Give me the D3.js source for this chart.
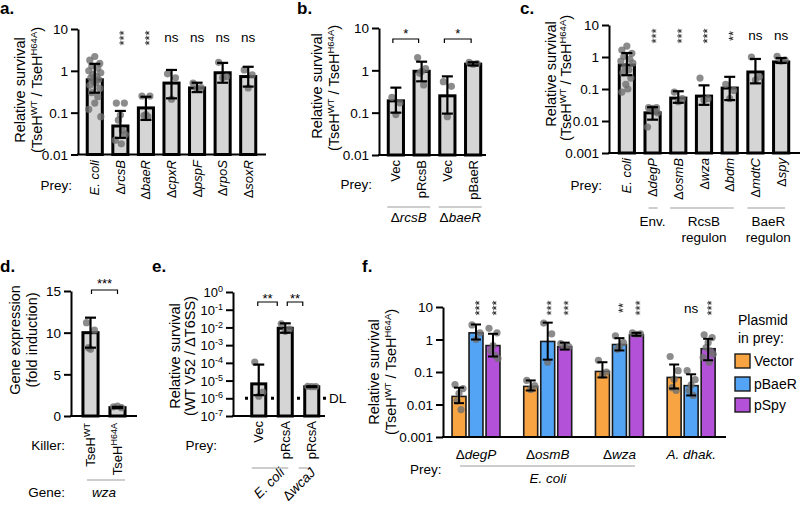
<!DOCTYPE html>
<html><head><meta charset="utf-8">
<script src="https://cdn.jsdelivr.net/npm/d3@7"></script>
<style>
body{margin:0;background:#fff;}
svg{display:block;font-family:"Liberation Sans",Arial,Helvetica,sans-serif;}
</style></head><body>
<svg id="c" width="800" height="508"></svg>
<script>
// ================= DATA =================
// Panel a
const aCats = ["_E. coli_","Δ_rcsB_","Δ_baeR_","Δ_cpxR_","Δ_pspF_","Δ_rpoS_","Δ_soxR_"];
const aMean = [0.61,0.048,0.13,0.51,0.39,0.9,0.73];
const aLo   = [0.3,0.025,0.067,0.22,0.31,0.52,0.42];
const aHi   = [1.47,0.11,0.24,1.05,0.52,1.55,1.25];
const aDots = [
  [2.2,1.8,1.5,1.3,1.15,1.0,0.9,0.82,0.75,0.68,0.62,0.57,0.52,0.45,0.38,0.3,0.24,0.17,0.12,0.08],
  [0.17,0.17,0.088,0.066,0.038,0.03,0.022,0.018],
  [0.25,0.25,0.09,0.085,0.08],
  [0.85,0.68,0.21],
  [0.51,0.4,0.37],
  [1.6,0.72,0.68],
  [1.05,0.8,0.39]
];
const aSig = ["","***","***","ns","ns","ns","ns"];
const logTicks3 = [0.01,0.1,1,10];
const logLabels3 = ["0.01","0.1","1","10"];

// Panel b
const bCats = ["Vec","pRcsB","Vec ","pBaeR"];
const bMean = [0.19,0.95,0.25,1.4];
const bLo   = [0.1,0.55,0.095,1.3];
const bHi   = [0.39,1.6,0.72,1.55];
const bDots = [[0.23,0.17,0.09],[2.0,1.1,0.95,0.85,0.45],[0.54,0.42,0.08],[1.55,1.45,1.4]];
const bGroups = ["Δ_rcsB_","Δ_baeR_"];

// Panel c
const cCats = ["_E. coli_","Δ_degP_","Δ_osmB_","Δ_wza_","Δ_bdm_","Δ_mdtC_","Δ_spy_"];
const cMean = [0.56,0.018,0.052,0.06,0.107,0.34,0.7];
const cLo   = [0.27,0.011,0.037,0.032,0.045,0.15,0.65];
const cHi   = [1.33,0.027,0.085,0.13,0.24,0.87,0.93];
const cDots = [
  [2.2,1.65,1.3,1.05,0.85,0.75,0.65,0.5,0.4,0.32,0.22,0.14,0.1,0.08],
  [0.026,0.026,0.025,0.024,0.02,0.018,0.0065],
  [0.08,0.05,0.04],
  [0.22,0.05,0.045],
  [0.14,0.09,0.05],
  [1.0,0.24,0.19],
  [1.05,0.8,0.75]
];
const cSig = ["","***","***","***","**","ns","ns"];
const cTicks = [0.001,0.01,0.1,1,10];
const cLabels = ["0.001","0.01","0.1","1","10"];
const cGroups = ["Env.","RcsB|regulon","BaeR|regulon"];

// Panel d
const dCats = ["TseH^WT^","TseH^H64A^"];
const dMean = [10,1];
const dLo   = [8.2,0.95];
const dHi   = [11.8,1.1];
const dDots = [[11.2,10.3,8.0,8.2],[1.1,1.0,1.2]];
const dTicks = [0,5,10,15];

// Panel e
const eCats = ["Vec","pRcsA","pRcsA "];
const eMean = [6.5e-6,0.009,4.5e-6];
const eLo   = [1.5e-6,0.005,4.3e-6];
const eHi   = [8e-5,0.017,4.8e-6];
const eDots = [[1.1e-4,2.2e-6,1.3e-6],[0.016,0.008,0.006],[4.7e-6,4.6e-6,4.5e-6]];
const eTicks = [1e-7,1e-6,1e-5,1e-4,1e-3,1e-2,1e-1,1];
const eExp = ["-7","-6","-5","-4","-3","-2","-1","0"];
const eDL = 1e-6;
const eGroups = ["_E. coli_","Δ_wcaJ_"];

// Panel f
const fGroups = ["Δ_degP_","Δ_osmB_","Δ_wza_","_A. dhak._"];
const fSeries = ["Vector","pBaeR","pSpy"];
const fColors = ["#F9A443","#53A4F5","#B352D8"];
const fVector = [0.0177,0.036,0.104,0.068];
const fBaeR   = [1.6,0.87,0.7,0.038];
const fSpy    = [0.65,0.6,1.4,0.52];
const fVectorLo = [0.011,0.027,0.068,0.031], fVectorHi = [0.033,0.055,0.2,0.17];
const fBaeRLo   = [1.0,0.24,0.46,0.019],     fBaeRHi   = [2.9,3.3,1.1,0.085];
const fSpyLo    = [0.3,0.49,1.3,0.23],       fSpyHi    = [1.5,0.8,1.6,1.05];
const fVectorDots = [[0.041,0.031,0.022,0.013,0.007],[0.055,0.038,0.029],[0.23,0.1,0.08],[0.3,0.11,0.06,0.033,0.027]];
const fBaeRDots   = [[2.8,1.6,1.0],[3.2,1.5,0.2],[1.3,0.8,0.6,0.5],[0.11,0.058,0.04,0.027,0.019]];
const fSpyDots    = [[2.2,1.6,0.65,0.45,0.32,0.26],[0.75,0.6,0.58],[1.6,1.5,1.45],[1.4,1.15,0.8,0.56,0.45,0.35,0.28,0.2]];
const fSigBaeR = ["***","***","**","ns"];
const fSigSpy  = ["***","***","***","***"];

// ================= HELPERS =================
const svg = d3.select('#c');
// desaturating filter so rotated asterisks are drawn in plain black/grey
svg.append('defs').append('filter').attr('id', 'mono')
  .attr('x', '-50%').attr('y', '-50%').attr('width', '200%').attr('height', '200%')
  .append('feColorMatrix').attr('type', 'saturate').attr('values', 0);
const JIT = [0,-5,5,-3,3,-6,6,-2,2,-4,4,-1,1,-5,5,-3,3,0,-6,6];
const JIT3 = [-4,4,0,-2,2,5,-5,1];

function rich(sel, str, opt = {}) {
  const sup = opt.sup || 9.5, shift = opt.shift || 5;
  const parts = str.split(/(_[^_]+_|\^[^^]+\^)/).filter(s => s.length);
  let back = 0;
  parts.forEach(p => {
    let ts;
    if (p.length > 1 && p[0] === '^' && p[p.length-1] === '^') {
      sel.append('tspan').attr('font-size', sup).attr('dy', -shift).text(p.slice(1,-1));
      back = shift; return;
    }
    if (p.length > 1 && p[0] === '_' && p[p.length-1] === '_') ts = sel.append('tspan').attr('font-style','italic').text(p.slice(1,-1));
    else ts = sel.append('tspan').text(p);
    if (back) { ts.attr('dy', back); back = 0; }
  });
  return sel;
}
function txt(x, y, s, size, anchor, opt) {
  const t = svg.append('text').attr('x', x).attr('y', y).attr('font-size', size || 13)
    .attr('text-anchor', anchor || 'start').attr('fill', '#000');
  return rich(t, s, opt);
}
function vtxt(x, y, s, size, anchor, angle, opt) {
  const t = svg.append('text').attr('transform', `translate(${x},${y}) rotate(${angle == null ? -90 : angle})`)
    .attr('font-size', size || 13).attr('text-anchor', anchor || 'middle').attr('dy', '0.35em').attr('fill', '#000');
  return rich(t, s, opt);
}
function yAxis(y, x0, ticks, labels, sizeLbl, supFmt) {
  const ax = d3.axisLeft(y).tickValues(ticks).tickFormat('').tickSize(7).tickSizeOuter(0);
  const g = svg.append('g').attr('transform', `translate(${x0},0)`).call(ax);
  g.select('.domain').attr('stroke', '#000').attr('stroke-width', 2);
  g.selectAll('.tick line').attr('stroke', '#000').attr('stroke-width', 2);
  g.selectAll('.tick text').remove();
  g.selectAll('.tick').each(function(d, i) {
    const t = d3.select(this).append('text').attr('x', -10).attr('dy', '0.36em')
      .attr('text-anchor', 'end').attr('font-size', sizeLbl || 13.5).attr('fill', '#000');
    rich(t, labels[i], supFmt);
  });
  g.attr('font-family', null);
  return g;
}
function baseline(x1, x2, y) {
  svg.append('line').attr('x1', x1).attr('x2', x2).attr('y1', y).attr('y2', y)
    .attr('stroke', '#000').attr('stroke-width', 2);
}
function errBars(g, data, cap, sw) {
  g.selectAll(null).data(data).join('line')
    .attr('x1', d => d.x).attr('x2', d => d.x).attr('y1', d => d.ylo).attr('y2', d => d.yhi)
    .attr('stroke', '#000').attr('stroke-width', sw);
  ['ylo','yhi'].forEach(k => {
    g.selectAll(null).data(data).join('line')
      .attr('x1', d => d.x - cap/2).attr('x2', d => d.x + cap/2).attr('y1', d => d[k]).attr('y2', d => d[k])
      .attr('stroke', '#000').attr('stroke-width', sw);
  });
}
function dotsDraw(g, pts) {
  g.selectAll(null).data(pts).join('circle')
    .attr('cx', d => d.x).attr('cy', d => d.y).attr('r', 3.6)
    .attr('fill', '#6f6f6f').attr('fill-opacity', 0.8);
}
function barPanel(cfg) {
  const { cats, mean, lo, hi, dots, y, xRange, pad } = cfg;
  const x = d3.scaleBand().domain(cats).range(xRange).paddingInner(pad).paddingOuter(pad / 2);
  const y0 = y.range()[0], bw = x.bandwidth();
  const g = svg.append('g');
  if (cfg.before) cfg.before(x);
  g.selectAll('rect').data(cats).join('rect')
    .attr('x', c => x(c)).attr('width', bw)
    .attr('y', (c, i) => y(mean[i])).attr('height', (c, i) => y0 - y(mean[i]))
    .attr('fill', '#d5d5d5').attr('stroke', '#000').attr('stroke-width', 3);
  const pts = [];
  cats.forEach((c, i) => dots[i].forEach((v, j) => {
    const jit = dots[i].length > 8 ? JIT[j % JIT.length] : JIT3[j % JIT3.length];
    pts.push({ x: x(c) + bw / 2 + jit, y: y(v) });
  }));
  dotsDraw(g, pts);
  errBars(g, cats.map((c, i) => ({ x: x(c) + bw / 2, ylo: y(lo[i]), yhi: y(hi[i]) })), 11, 2.2);
  return x;
}
function stars(x, yc, s, size) {
  // vertical stack of asterisks: one rotated text element, desaturated
  svg.append('text').attr('transform', `translate(${x},${yc}) rotate(-90)`)
    .attr('text-anchor', 'middle').attr('dy', '0.6em').attr('font-size', size || 13)
    .attr('fill', '#000').attr('filter', 'url(#mono)').text(s);
}
function bracket(x1, x2, y, label, ly) {
  svg.append('path').attr('d', `M${x1},${y + 4}V${y}H${x2}V${y + 4}`)
    .attr('fill', 'none').attr('stroke', '#000').attr('stroke-width', 1.2);
  txt((x1 + x2) / 2, ly, label, 13, 'middle');
}
function grayLine(x1, x2, y) {
  svg.append('line').attr('x1', x1).attr('x2', x2).attr('y1', y).attr('y2', y)
    .attr('stroke', '#bdbdbd').attr('stroke-width', 1.5);
}

// ================= PANEL A =================
{
  const y = d3.scaleLog().domain([0.01, 10]).range([154.5, 29]);
  const x = barPanel({ cats: aCats, mean: aMean, lo: aLo, hi: aHi, dots: aDots, y, xRange: [82, 261], pad: 0.41 });
  yAxis(y, 78, logTicks3, logLabels3);
  baseline(77, 266, 154.5);
  aCats.forEach((c, i) => {
    const cx = x(c) + x.bandwidth() / 2;
    if (aSig[i] === 'ns') txt(cx, 42, 'ns', 13.5, 'middle');
    else if (aSig[i]) stars(cx, 38, aSig[i]);
    vtxt(cx, 160, c, 13, 'end');
  });
  txt(72, 190, 'Prey:', 13.5, 'end');
  vtxt(20, 90, 'Relative survival', 14.5);
  vtxt(37, 90, '(TseH^WT^ / TseH^H64A^)', 14.5, 'middle', -90, { sup: 9.5, shift: 5 });
  svg.append('text').attr('x', 0).attr('y', 14).attr('font-weight', 'bold').attr('font-size', 17).text('a.');
}

// ================= PANEL B =================
{
  const y = d3.scaleLog().domain([0.01, 10]).range([155, 28]);
  const x = barPanel({ cats: bCats, mean: bMean, lo: bLo, hi: bHi, dots: bDots, y, xRange: [383, 486], pad: 0.41 });
  yAxis(y, 379, logTicks3, logLabels3);
  baseline(378, 486, 155);
  const cx = c => x(c) + x.bandwidth() / 2;
  bCats.forEach(c => vtxt(cx(c), 160, c.trim(), 13, 'end'));
  bracket(cx(bCats[0]) - 3, cx(bCats[1]) - 3, 39, '*', 38);
  bracket(cx(bCats[2]) - 3, cx(bCats[3]) - 2, 39, '*', 38);
  grayLine(x(bCats[0]) - 1, x(bCats[1]) + x.bandwidth() + 1, 207);
  grayLine(x(bCats[2]) - 1, x(bCats[3]) + x.bandwidth() + 1, 207);
  txt((cx(bCats[0]) + cx(bCats[1])) / 2, 222, bGroups[0], 13.5, 'middle');
  txt((cx(bCats[2]) + cx(bCats[3])) / 2, 222, bGroups[1], 13.5, 'middle');
  txt(372, 189, 'Prey:', 13.5, 'end');
  vtxt(317, 86, 'Relative survival', 14.5);
  vtxt(334, 88, '(TseH^WT^ / TseH^H64A^)', 14.5);
  svg.append('text').attr('x', 297).attr('y', 14).attr('font-weight', 'bold').attr('font-size', 17).text('b.');
}

// ================= PANEL C =================
{
  const y = d3.scaleLog().domain([0.001, 10]).range([153, 25]);
  const x = barPanel({ cats: cCats, mean: cMean, lo: cLo, hi: cHi, dots: cDots, y, xRange: [614, 794], pad: 0.41 });
  yAxis(y, 609, cTicks, cLabels);
  baseline(608, 800, 153);
  const cx = c => x(c) + x.bandwidth() / 2;
  cCats.forEach((c, i) => {
    if (cSig[i] === 'ns') txt(cx(c), 40, 'ns', 13.5, 'middle');
    else if (cSig[i]) stars(cx(c), 36, cSig[i]);
    vtxt(cx(c), 158, c, 13, 'end');
  });
  grayLine(cx(cCats[1]) - 4, cx(cCats[1]) + 5, 208);
  grayLine(cx(cCats[2]) - 8, cx(cCats[4]) + 4, 208);
  grayLine(cx(cCats[5]) - 8, cx(cCats[6]) + 4, 208);
  const gx = [cx(cCats[1]), (cx(cCats[2]) + cx(cCats[4])) / 2, (cx(cCats[5]) + cx(cCats[6])) / 2];
  cGroups.forEach((s, i) => s.split('|').forEach((line, k) => txt(gx[i], 226 + k * 16, line, 13.5, 'middle')));
  txt(602, 190, 'Prey:', 13.5, 'end');
  vtxt(551, 74, 'Relative survival', 14.5);
  vtxt(566, 78, '(TseH^WT^ / TseH^H64A^)', 14.5);
  svg.append('text').attr('x', 520).attr('y', 14).attr('font-weight', 'bold').attr('font-size', 17).text('c.');
}

// ================= PANEL D =================
{
  const y = d3.scaleLinear().domain([0, 15]).range([416, 291]);
  const x = barPanel({ cats: dCats, mean: dMean, lo: dLo, hi: dHi, dots: dDots, y, xRange: [77, 131], pad: 0.44 });
  yAxis(y, 71, dTicks, dTicks.map(String));
  baseline(70, 137, 416);
  const cx = c => x(c) + x.bandwidth() / 2;
  dCats.forEach(c => vtxt(cx(c), 423, c, 13, 'end', -90, { sup: 9, shift: 5 }));
  bracket(cx(dCats[0]) + 1, cx(dCats[1]), 290, '***', 288);
  grayLine(x(dCats[0]) + 4, x(dCats[1]) + x.bandwidth(), 480);
  txt((cx(dCats[0]) + cx(dCats[1])) / 2, 497, '_wza_', 13.5, 'middle');
  txt(65, 450, 'Killer:', 13.5, 'end');
  txt(65, 497, 'Gene:', 13.5, 'end');
  vtxt(15, 340, 'Gene expression', 14.5);
  vtxt(32, 340, '(fold induction)', 14.5);
  svg.append('text').attr('x', 0).attr('y', 272).attr('font-weight', 'bold').attr('font-size', 17).text('d.');
}

// ================= PANEL E =================
{
  const y = d3.scaleLog().domain([1e-7, 1]).range([416, 292]);
  const x = barPanel({ cats: eCats, mean: eMean, lo: eLo, hi: eHi, dots: eDots, y, xRange: [245.5, 325], pad: 0.47,
    before: () => {
      svg.append('line').attr('x1', 245).attr('x2', 326).attr('y1', y(eDL)).attr('y2', y(eDL))
        .attr('stroke', '#000').attr('stroke-width', 3).attr('stroke-dasharray', '3,23');
    } });
  yAxis(y, 233, eTicks, eExp.map(e => '10^' + e + '^'), 13, { sup: 9, shift: 5 });
  baseline(232, 325, 416);
  const cx = c => x(c) + x.bandwidth() / 2;
  eCats.forEach(c => vtxt(cx(c), 421, c.trim(), 13, 'end'));
  txt(329, y(eDL) + 5, 'DL', 13.5, 'start');
  bracket(cx(eCats[0]) - 1, cx(eCats[1]) - 8, 302, '**', 303);
  bracket(cx(eCats[1]) + 2, cx(eCats[2]) - 9, 302, '**', 303);
  grayLine(x(eCats[0]), x(eCats[1]) + x.bandwidth() - 4, 468);
  grayLine(cx(eCats[2]) - 13, cx(eCats[2]) - 4, 468);
  vtxt(282, 470, eGroups[0], 13.5, 'end', -45);
  vtxt(313, 470, eGroups[1], 13.5, 'end', -45);
  txt(217, 450, 'Prey:', 13.5, 'end');
  vtxt(175, 356, 'Relative survival', 14.5);
  vtxt(190, 356, '(WT V52 / ΔT6SS)', 14.5);
  svg.append('text').attr('x', 152).attr('y', 272).attr('font-weight', 'bold').attr('font-size', 17).text('e.');
}

// ================= PANEL F =================
{
  const y = d3.scaleLog().domain([0.001, 10]).range([437, 307]);
  const x0 = d3.scaleBand().domain(fGroups).range([440.15, 727]);
  const x1 = d3.scaleBand().domain(fSeries).range([-25.5, 25.5]).paddingInner(0.18).paddingOuter(0.09);
  const means = [fVector, fBaeR, fSpy], los = [fVectorLo, fBaeRLo, fSpyLo], his = [fVectorHi, fBaeRHi, fSpyHi];
  const dts = [fVectorDots, fBaeRDots, fSpyDots];
  const bw = x1.bandwidth();
  const cxOf = (gi, si) => x0(fGroups[gi]) + x0.bandwidth() / 2 + x1(fSeries[si]) + bw / 2;
  const recs = [];
  fGroups.forEach((g, gi) => fSeries.forEach((s, si) => recs.push({ gi, si })));
  const g = svg.append('g');
  g.selectAll('rect').data(recs).join('rect')
    .attr('x', d => cxOf(d.gi, d.si) - bw / 2).attr('width', bw)
    .attr('y', d => y(means[d.si][d.gi])).attr('height', d => 437 - y(means[d.si][d.gi]))
    .attr('fill', d => fColors[d.si]).attr('stroke', '#1a1a1a').attr('stroke-width', 1.6);
  const pts = [];
  recs.forEach(d => dts[d.si][d.gi].forEach((v, j) => pts.push({ x: cxOf(d.gi, d.si) + JIT3[j % JIT3.length], y: y(v) })));
  dotsDraw(g, pts);
  errBars(g, recs.map(d => ({ x: cxOf(d.gi, d.si), ylo: y(los[d.si][d.gi]), yhi: y(his[d.si][d.gi]) })), 10, 2);
  yAxis(y, 443, cTicks, cLabels);
  baseline(442, 726, 437);
  fGroups.forEach((gname, gi) => {
    [[1, fSigBaeR], [2, fSigSpy]].forEach(([si, arr]) => {
      const s = arr[gi];
      if (s === 'ns') txt(cxOf(gi, si), 313, 'ns', 13.5, 'middle');
      else stars(cxOf(gi, si), 308, s);
    });
    txt(x0(gname) + x0.bandwidth() / 2, 459, gname, 13.5, 'middle');
  });
  grayLine(460, 635, 466);
  txt(548, 483, '_E. coli_', 13.5, 'middle');
  txt(410, 474, 'Prey:', 13.5, 'start');
  vtxt(374, 372, 'Relative survival', 14.5);
  vtxt(391, 372, '(TseH^WT^ / TseH^H64A^)', 14.5);
  // legend
  txt(738, 325, 'Plasmid', 14, 'start');
  txt(738, 343, 'in prey:', 14, 'start');
  const ly = [354, 377, 398];
  fSeries.forEach((s, i) => {
    svg.append('rect').attr('x', 735).attr('y', ly[i]).attr('width', 15).attr('height', 14)
      .attr('fill', fColors[i]).attr('stroke', '#1a1a1a').attr('stroke-width', 1.4);
    txt(754, ly[i] + 12, s, 14, 'start');
  });
  svg.append('text').attr('x', 362).attr('y', 272).attr('font-weight', 'bold').attr('font-size', 17).text('f.');
}
</script>
</body></html>
